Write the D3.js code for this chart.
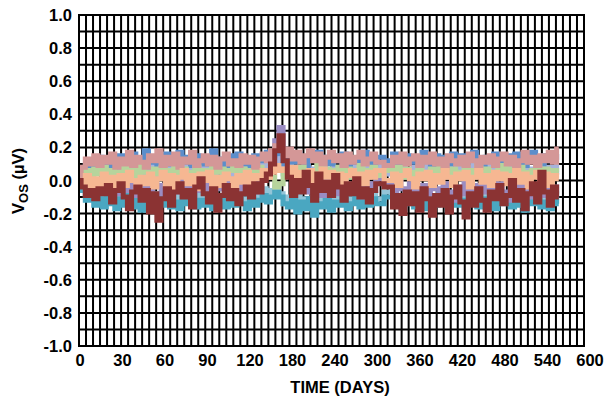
<!DOCTYPE html>
<html><head><meta charset="utf-8">
<script src="https://cdn.jsdelivr.net/npm/d3@7"></script>
<style>
html,body{margin:0;padding:0;background:#fff;}
text{font-family:"Liberation Sans",Arial,sans-serif;font-weight:bold;fill:#000;}
</style></head>
<body><svg id="chart" width="607" height="403"></svg>
<script>
// x tick labels (days) placed at equal spacing
const xTickLabels = ["0","30","60","90","120","180","240","300","360","420","480","540","600"];
const yTicks = [1.0,0.8,0.6,0.4,0.2,0.0,-0.2,-0.4,-0.6,-0.8,-1.0];
const sampleStep = 0.1; // label-interval units per sample

const darkRed = [
 0.00,-0.04,-0.09,-0.06,-0.11,-0.05,-0.08,-0.03,-0.13,-0.06,
 -0.02,-0.10,-0.17,-0.07,-0.04,-0.12,-0.06,-0.19,-0.08,-0.24,
 -0.11,-0.05,-0.15,-0.07,-0.02,-0.10,-0.06,-0.16,-0.04,0.01,
 -0.08,-0.13,-0.05,-0.18,-0.09,-0.03,-0.11,-0.06,-0.14,-0.08,
 -0.04,-0.10,-0.02,-0.07,0.00,0.04,0.10,0.18,0.27,0.12,
 0.02,-0.09,0.00,-0.07,0.05,-0.03,-0.12,0.04,-0.06,-0.01,
 -0.09,0.03,-0.04,-0.12,-0.02,-0.08,0.01,-0.10,-0.05,-0.13,
 -0.06,-0.02,null,null,-0.04,-0.16,-0.09,-0.20,-0.07,-0.14,
 -0.08,-0.18,-0.05,-0.11,-0.21,-0.09,-0.15,-0.06,-0.19,-0.10,
 -0.04,-0.13,-0.22,-0.08,-0.15,-0.05,-0.12,-0.18,-0.07,-0.11,
 -0.03,-0.14,-0.09,0.00,-0.12,-0.06,-0.17,-0.08,-0.02,-0.13,
 0.05,-0.07,-0.15,-0.04,-0.10];
const rose = [
 0.00,0.08,0.13,0.10,0.15,0.09,0.14,0.11,0.16,0.08,
 0.13,0.10,0.17,0.09,0.14,0.11,0.08,0.15,0.12,0.18,
 0.09,0.14,0.10,0.16,0.08,0.13,0.11,0.17,0.09,0.12,
 0.15,0.10,0.14,0.08,0.13,0.16,0.10,0.12,0.09,0.15,
 0.11,0.14,0.08,0.13,0.16,0.12,0.18,0.21,0.19,0.15,
 0.19,0.13,0.17,0.11,0.15,0.18,0.12,0.16,0.10,0.14,
 0.17,0.12,0.15,0.09,0.16,0.11,0.14,0.17,0.10,0.13,
 0.16,0.11,null,null,0.09,0.14,0.11,0.16,0.10,0.13,
 0.15,0.09,0.14,0.11,0.16,0.10,0.13,0.08,0.15,0.12,
 0.10,0.14,0.09,0.16,0.12,0.08,0.14,0.11,0.15,0.09,
 0.13,0.16,0.10,0.14,0.08,0.12,0.17,0.11,0.14,0.09,
 0.15,0.12,0.17,0.11,0.19];
const peach = [
 0.00,-0.02,0.03,-0.05,0.01,-0.04,0.04,-0.02,0.02,-0.06,
 0.03,-0.03,0.05,0.00,-0.05,0.02,-0.02,0.04,-0.04,0.01,
 0.05,-0.03,0.03,-0.06,0.02,0.06,-0.02,0.03,-0.05,0.04,
 0.00,0.05,-0.04,0.02,-0.03,0.04,0.01,-0.05,0.03,-0.01,
 0.05,-0.03,0.03,0.01,0.06,0.02,0.05,0.09,0.06,0.07,
 0.03,0.08,0.01,0.05,0.02,0.06,-0.02,0.04,0.07,0.02,
 0.05,-0.01,0.04,-0.03,0.03,0.06,0.01,0.04,-0.02,0.05,
 0.02,0.06,null,null,0.00,0.04,-0.03,0.03,0.06,0.01,
 -0.04,0.04,0.01,0.05,-0.03,0.03,-0.01,0.06,0.02,-0.03,
 0.04,0.01,0.05,-0.04,0.02,0.06,-0.01,0.03,-0.03,0.05,
 0.01,0.04,-0.02,0.03,0.06,-0.01,0.04,-0.04,0.02,0.05,
 0.00,0.04,-0.03,0.03,0.01];
const teal = [
 0.00,-0.06,-0.12,-0.09,-0.15,-0.11,-0.16,-0.10,-0.14,-0.17,
 -0.11,-0.15,-0.09,-0.16,-0.12,-0.18,-0.10,-0.14,-0.17,-0.11,
 -0.15,-0.10,-0.16,-0.13,-0.17,-0.11,-0.14,-0.09,-0.16,-0.12,
 -0.15,-0.10,-0.17,-0.13,-0.11,-0.16,-0.12,-0.15,-0.10,-0.14,
 -0.17,-0.11,-0.15,-0.12,-0.09,-0.13,-0.10,-0.07,-0.10,-0.14,
 -0.16,-0.12,-0.19,-0.13,-0.17,-0.11,-0.21,-0.14,-0.16,-0.12,
 -0.18,-0.13,-0.15,-0.11,-0.17,-0.14,-0.10,-0.16,-0.12,-0.15,
 -0.11,-0.14,null,null,-0.10,-0.15,-0.12,-0.17,-0.11,-0.14,
 -0.16,-0.10,-0.13,-0.17,-0.12,-0.15,-0.09,-0.14,-0.18,-0.11,
 -0.15,-0.12,-0.17,-0.10,-0.14,-0.16,-0.11,-0.15,-0.13,-0.17,
 -0.10,-0.14,-0.12,-0.16,-0.11,-0.15,-0.18,-0.12,-0.14,-0.10,
 -0.16,-0.13,-0.17,-0.11,-0.14];
const lightBlue = [
 0.00,-0.04,-0.08,-0.05,-0.10,-0.07,-0.12,-0.06,-0.09,-0.13,
 -0.08,-0.11,-0.06,-0.12,-0.09,-0.14,-0.07,-0.10,-0.13,-0.08,
 -0.11,-0.07,-0.13,-0.09,-0.12,-0.08,-0.10,-0.06,-0.12,-0.09,
 -0.13,-0.07,-0.11,-0.09,-0.14,-0.10,-0.08,-0.12,-0.07,-0.11,
 -0.13,-0.09,-0.11,-0.08,-0.05,-0.10,-0.06,-0.04,-0.08,-0.14,
 -0.10,-0.15,-0.09,-0.13,-0.11,-0.16,-0.10,-0.12,-0.14,-0.09,
 -0.13,-0.10,-0.12,-0.08,-0.14,-0.11,-0.07,-0.12,-0.09,-0.13,
 -0.08,-0.11,null,null,-0.07,-0.12,-0.09,-0.13,-0.08,-0.11,
 -0.12,-0.07,-0.10,-0.14,-0.09,-0.12,-0.06,-0.11,-0.15,-0.08,
 -0.12,-0.09,-0.14,-0.07,-0.11,-0.13,-0.08,-0.12,-0.10,-0.14,
 -0.07,-0.11,-0.09,-0.13,-0.08,-0.12,-0.15,-0.09,-0.11,-0.07,
 -0.13,-0.10,-0.14,-0.08,-0.12];
const purple = [
 0.00,-0.02,-0.05,0.01,-0.06,-0.01,-0.07,0.02,-0.04,-0.08,
 -0.01,-0.06,0.03,-0.05,-0.09,0.00,-0.04,-0.07,0.02,-0.03,
 -0.08,0.01,-0.05,-0.02,-0.07,0.03,-0.04,-0.09,0.00,-0.06,
 -0.02,-0.07,0.02,-0.05,-0.01,-0.08,0.03,-0.04,-0.06,0.01,
 -0.05,-0.02,-0.07,0.01,0.02,0.06,0.14,0.24,0.32,0.16,
 0.03,-0.08,0.02,-0.05,0.00,-0.07,0.03,-0.04,-0.09,0.01,
 -0.06,-0.02,-0.08,0.02,-0.04,-0.07,0.01,-0.05,-0.10,-0.02,
 -0.06,0.01,null,null,-0.03,-0.07,0.00,-0.05,-0.09,-0.02,
 -0.06,-0.11,-0.03,-0.08,0.00,-0.05,-0.10,-0.02,-0.07,-0.12,
 -0.04,-0.08,-0.01,-0.06,-0.11,-0.03,-0.07,0.00,-0.05,-0.09,
 -0.02,-0.07,-0.12,-0.04,-0.08,0.01,-0.05,-0.10,-0.03,-0.06,
 -0.09,-0.02,-0.07,-0.04,-0.08];
const blue = [
 0.00,0.05,0.09,0.12,0.08,0.14,0.10,0.13,0.07,0.11,
 0.15,0.09,0.12,0.16,0.10,0.13,0.18,0.11,0.14,0.09,
 0.12,0.16,0.10,0.13,0.17,0.11,0.14,0.09,0.15,0.12,
 0.10,0.14,0.18,0.11,0.13,0.09,0.15,0.12,0.16,0.10,
 0.13,0.09,0.15,0.12,0.14,0.17,0.15,0.20,0.16,0.10,
 0.14,0.11,0.16,0.12,0.09,0.15,0.13,0.17,0.11,0.14,
 0.10,0.15,0.12,0.16,0.09,0.13,0.11,0.14,0.17,0.12,
 0.10,0.14,null,null,0.12,0.16,0.09,0.13,0.15,0.11,
 0.14,0.10,0.17,0.12,0.09,0.15,0.11,0.14,0.10,0.16,
 0.12,0.15,0.10,0.13,0.17,0.11,0.09,0.14,0.12,0.16,
 0.10,0.13,0.15,0.11,0.16,0.14,0.09,0.13,0.17,0.12,
 0.10,0.15,0.12,0.14,0.16];
const green = [
 0.00,0.03,0.06,0.02,0.07,0.04,0.08,0.03,0.06,0.02,
 0.05,0.08,0.04,0.07,0.03,0.09,0.05,0.02,0.07,0.04,
 0.08,0.03,0.06,0.09,0.04,0.07,0.02,0.05,0.08,0.04,
 0.06,0.03,0.09,0.05,0.07,0.02,0.06,0.08,0.04,0.07,
 0.03,0.06,0.04,0.08,0.05,0.04,0.02,-0.04,-0.02,0.06,
 0.04,0.07,0.03,0.08,0.05,0.02,0.06,0.09,0.04,0.07,
 0.03,0.06,0.08,0.04,0.07,0.02,0.05,0.09,0.04,0.06,
 0.08,0.03,null,null,0.06,0.04,0.08,0.02,0.07,0.05,
 0.03,0.08,0.05,0.02,0.07,0.04,0.09,0.06,0.03,0.07,
 0.05,0.02,0.08,0.04,0.06,0.09,0.03,0.07,0.05,0.02,
 0.06,0.09,0.04,0.07,0.03,0.08,0.05,0.02,0.06,0.09,
 0.04,0.07,0.03,0.06,0.05];
const periwinkle = [
 0.00,0.04,0.07,0.05,0.09,0.06,0.03,0.08,0.05,0.10,
 0.06,0.03,0.08,0.05,0.10,0.07,0.04,0.09,0.06,0.03,
 0.08,0.05,0.10,0.06,0.04,0.09,0.07,0.03,0.08,0.05,
 0.10,0.06,0.04,0.08,0.05,0.09,0.03,0.07,0.10,0.05,
 0.08,0.04,0.07,0.09,0.06,0.10,0.11,0.13,0.09,0.04,
 0.09,0.06,0.03,0.08,0.10,0.05,0.07,0.04,0.09,0.06,
 0.03,0.08,0.05,0.10,0.06,0.04,0.09,0.07,0.03,0.08,
 0.05,0.09,null,null,0.04,0.08,0.06,0.10,0.05,0.03,
 0.08,0.06,0.10,0.04,0.07,0.09,0.05,0.03,0.08,0.06,
 0.10,0.04,0.07,0.05,0.09,0.03,0.08,0.06,0.10,0.05,
 0.07,0.04,0.09,0.06,0.03,0.08,0.10,0.05,0.07,0.04,
 0.09,0.06,0.08,0.05,0.10];

const seriesNames = ["lightBlue","teal","purple","periwinkle","blue","green","rose","peach","darkRed"];
const seriesValues = [lightBlue,teal,purple,periwinkle,blue,green,rose,peach,darkRed];
const seriesColors = ["#93c5d8","#4aa7c1","#9a8cc2","#a7b3db","#5c8ecb","#b6d49c","#d49797","#f6b792","#8b3333"];
const seriesWidths = [5,5,5,5,5,5,5,5,5];

const svg = d3.select("#chart");
const L=79, R=584, T=15, B=346;
const x = d3.scaleLinear().domain([0,12]).range([L,R]);
const xLab = d3.scaleLinear().domain([0,12]).range([80,590]);
const y = d3.scaleLinear().domain([-1,1]).range([B,T]);

// grid
const g = svg.append("g");
const vx = d3.range(0,73).map(i=>i/6);
g.selectAll("line.v").data(vx).enter().append("line")
  .attr("x1",d=>x(d)).attr("x2",d=>x(d)).attr("y1",T).attr("y2",B)
  .attr("stroke","#000").attr("stroke-width",2);
const hy = d3.range(0,21).map(i=>-1+i*0.1);
g.selectAll("line.h").data(hy).enter().append("line")
  .attr("x1",L).attr("x2",R).attr("y1",d=>y(d)).attr("y2",d=>y(d))
  .attr("stroke","#000").attr("stroke-width",2);

// data
const line = d3.line().x(d=>x(d[0])).y(d=>y(d[1])).curve(d3.curveStep);
seriesValues.forEach((vals,k)=>{
  const pts = vals.map((v,i)=>[i*sampleStep, v]).filter(p=>p[1]!==null);
  svg.append("path").datum(pts).attr("d",line)
    .attr("fill","none").attr("stroke",seriesColors[k])
    .attr("stroke-width",seriesWidths[k]).attr("stroke-linejoin","miter");
});

// border
svg.append("rect").attr("x",L).attr("y",T).attr("width",R-L).attr("height",B-T)
  .attr("fill","none").attr("stroke","#000").attr("stroke-width",2);

// y tick labels
svg.selectAll("text.yt").data(yTicks).enter().append("text")
  .attr("x",72).attr("y",d=>y(d)+6).attr("text-anchor","end")
  .style("font-size","16.5px").text(d=>d.toFixed(1));
// x tick labels
svg.selectAll("text.xt").data(xTickLabels).enter().append("text")
  .attr("x",(d,i)=>xLab(i)).attr("y",366).attr("text-anchor","middle")
  .style("font-size","16.5px").text(d=>d);
// titles
svg.append("text").attr("x",340).attr("y",393).attr("text-anchor","middle")
  .style("font-size","16.5px").text("TIME (DAYS)");
const yt = svg.append("text").attr("transform","translate(24,181) rotate(-90)")
  .attr("text-anchor","middle").style("font-size","16.5px");
yt.append("tspan").text("V");
yt.append("tspan").attr("dy",4).style("font-size","13px").text("OS");
yt.append("tspan").attr("dy",-4).text(" (µV)");
</script></body></html>
